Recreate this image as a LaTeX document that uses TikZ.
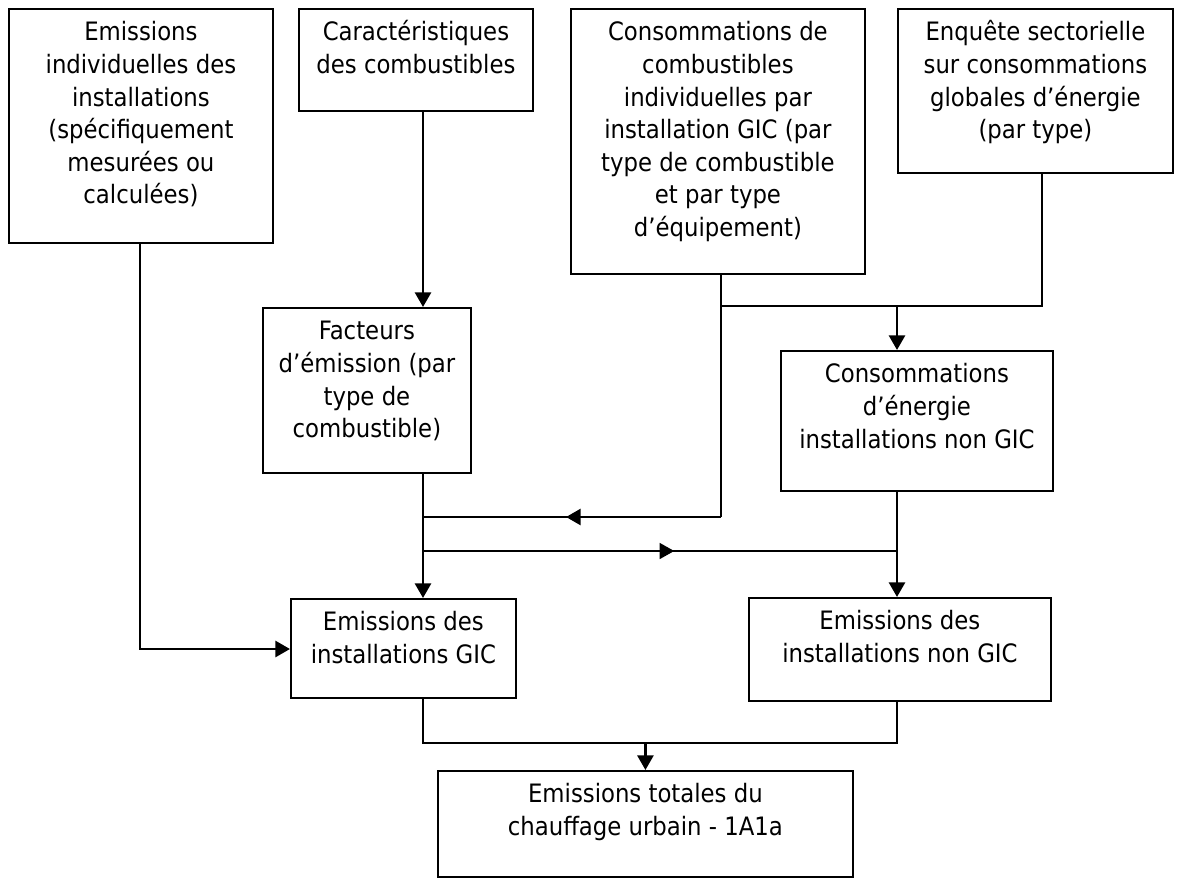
\documentclass[tikz,border=0pt]{standalone}
\usepackage{fontspec}
\setmainfont{DejaVu Sans Condensed}
\usetikzlibrary{arrows.meta,decorations.markings}

% A box whose text hangs from its top edge: name, x1, y1, x2, y2, text
\newcommand\flowbox[6]{%
  \node[box, anchor=north west] (#1) at (#2,#3)
    {\parbox[c][\dimexpr0.75pt*\numexpr#5-#3\relax\relax][t]{\dimexpr0.75pt*\numexpr#4-#2\relax\relax}%
      {\centering\rule{0pt}{24pt}#6\par}};}

\tikzset{
  box/.style={draw, line width=1.4pt, inner sep=0pt,
              font=\fontsize{19}{24.4}\selectfont},
  conn/.style={line width=2.1pt},
  thinconn/.style={line width=1.3pt},
  arrowend/.style={-{Triangle[length=11pt,width=12pt]}},
  midarrow/.style={postaction={decorate},
    decoration={markings, mark=at position #1 with {\arrow{Triangle[length=11pt,width=12pt]}}}}
}

\begin{document}
\begin{tikzpicture}[x=0.75pt,y=-0.75pt]
  \useasboundingbox (0,0) rectangle (1181,882);

  % inputs
  \flowbox{A}{8}{8}{272}{242}{Emissions\\ individuelles des\\ installations\\ (spécifiquement\\ mesurées ou\\ calculées)}
  \flowbox{B}{298}{8}{532}{110}{Caractéristiques\\ des combustibles}
  \flowbox{C}{570}{8}{864}{273}{Consommations de\\ combustibles\\ individuelles par\\ installation GIC (par\\ type de combustible\\ et par type\\ d’équipement)}
  \flowbox{D}{897}{8}{1172}{172}{Enquête sectorielle\\ sur consommations\\ globales d’énergie\\ (par type)}

  % intermediate quantities
  \flowbox{E}{262}{307}{470}{472}{Facteurs\\ d’émission (par\\ type de\\ combustible)}
  \flowbox{F}{780}{350}{1052}{490}{Consommations\\ d’énergie\\ installations non GIC}

  % emissions
  \flowbox{G}{290}{598}{515}{697}{Emissions des\\ installations GIC}
  \flowbox{H}{748}{597}{1050}{700}{Emissions des\\ installations non GIC}
  \flowbox{I}{437}{770}{852}{876}{Emissions totales du\\ chauffage urbain - 1A1a}

  % routing lines
  \coordinate (xA) at (140,0);
  \coordinate (xM) at (423,0);
  \coordinate (xC) at (721,0);
  \coordinate (xD) at (1042,0);
  \coordinate (xF) at (897,0);
  \coordinate (yA) at (0,649);
  \coordinate (yT) at (0,306);
  \coordinate (yC) at (0,517);
  \coordinate (yS) at (0,551);
  \coordinate (yB) at (0,743);

  \draw[conn, arrowend] (A.south -| xA) |- (G.west |- yA);
  \draw[conn, arrowend] (B.south -| xM) -- (E.north -| xM);
  \draw[conn] (C.south -| xC) -- (xC |- yC);
  \draw[conn, midarrow=0.52] (xC |- yC) -- (xM |- yC);
  \draw[conn] (xC |- yT) -| (D.south -| xD);
  \draw[conn, arrowend] (xF |- yT) -- (F.north -| xF);
  \draw[conn, arrowend] (E.south -| xM) -- (G.north -| xM);
  \draw[thinconn, midarrow=0.53] (xM |- yS) -- (xF |- yS);
  \draw[conn, arrowend] (F.south -| xF) -- (H.north -| xF);
  \draw[conn] (G.south -| xM) |- (xF |- yB) -- (H.south -| xF);
  \draw[conn, arrowend] (I.north |- yB) -- (I.north);
\end{tikzpicture}
\end{document}
